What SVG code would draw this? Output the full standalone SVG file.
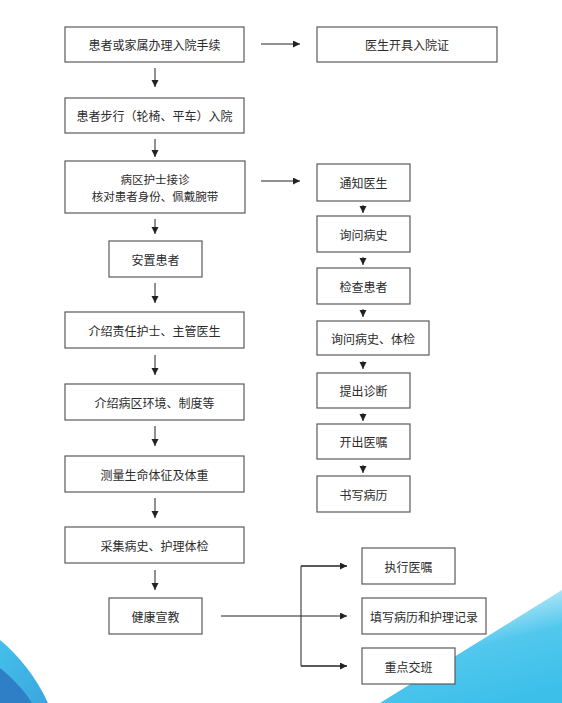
<svg xmlns="http://www.w3.org/2000/svg" width="562" height="703" viewBox="0 0 562 703">
<style>
.box{fill:#fff;stroke:#5a5a5a;stroke-width:1.2}
.t{font-family:"Noto Sans CJK SC","Liberation Sans",sans-serif;font-size:12px;fill:#2b2b2b;text-anchor:middle;dominant-baseline:central}
.t2{font-size:11.5px}
.ln{stroke:#222;stroke-width:1;fill:none}
</style>
<defs>
<marker id="ah" markerUnits="userSpaceOnUse" markerWidth="8" markerHeight="8" refX="7" refY="3.5" orient="auto">
<path d="M0,0 L7,3.5 L0,7 z" fill="#222"/>
</marker>
<linearGradient id="gr" x1="0.2" y1="0" x2="0.6" y2="1">
<stop offset="0" stop-color="#3fc1ec" stop-opacity="0"/>
<stop offset="0.55" stop-color="#3fc1ec" stop-opacity="0.9"/>
<stop offset="1" stop-color="#3cc0ea"/>
</linearGradient>
<linearGradient id="gl" x1="0" y1="0" x2="1" y2="1">
<stop offset="0" stop-color="#45c0ea"/>
<stop offset="1" stop-color="#3aa6de"/>
</linearGradient>
</defs>
<rect width="562" height="703" fill="#fff"/>
<g id="decor">
<path d="M380,703 L562,590 L562,703 Z" fill="url(#gr)"/>
<path d="M0,640 C18,655 35,675 48,703 L0,703 Z" fill="url(#gl)"/>
<path d="M0,668 C12,678 24,690 32,703 L0,703 Z" fill="#2f7fc6"/>
</g>
<g id="connectors">
<line class="ln" x1="261" y1="44" x2="300" y2="44" marker-end="url(#ah)"/>
<line class="ln" x1="155" y1="68" x2="155" y2="87" marker-end="url(#ah)"/>
<line class="ln" x1="155" y1="139" x2="155" y2="157" marker-end="url(#ah)"/>
<line class="ln" x1="261" y1="181" x2="300" y2="181" marker-end="url(#ah)"/>
<line class="ln" x1="155" y1="219" x2="155" y2="234" marker-end="url(#ah)"/>
<line class="ln" x1="155" y1="283" x2="155" y2="303" marker-end="url(#ah)"/>
<line class="ln" x1="155" y1="355" x2="155" y2="375" marker-end="url(#ah)"/>
<line class="ln" x1="155" y1="426" x2="155" y2="446" marker-end="url(#ah)"/>
<line class="ln" x1="155" y1="498" x2="155" y2="518" marker-end="url(#ah)"/>
<line class="ln" x1="155" y1="570" x2="155" y2="590" marker-end="url(#ah)"/>
<line class="ln" x1="363" y1="205" x2="363" y2="213" marker-end="url(#ah)"/>
<line class="ln" x1="363" y1="257" x2="363" y2="265" marker-end="url(#ah)"/>
<line class="ln" x1="363" y1="309" x2="363" y2="317" marker-end="url(#ah)"/>
<line class="ln" x1="363" y1="361" x2="363" y2="369" marker-end="url(#ah)"/>
<line class="ln" x1="363" y1="413" x2="363" y2="421" marker-end="url(#ah)"/>
<line class="ln" x1="363" y1="465" x2="363" y2="473" marker-end="url(#ah)"/>
<line class="ln" x1="221" y1="616" x2="347" y2="616" marker-end="url(#ah)"/>
<polyline class="ln" points="347,566 301,566 301,666 347,666"/>
<line class="ln" x1="301" y1="566" x2="347" y2="566" marker-end="url(#ah)"/>
<line class="ln" x1="301" y1="666" x2="347" y2="666" marker-end="url(#ah)"/>
</g>
<g id="n1"><rect class="box" x="65" y="27" width="179" height="35"/><text class="t" x="154.5" y="44.5">患者或家属办理入院手续</text></g>
<g id="n2"><rect class="box" x="317" y="27" width="180" height="35"/><text class="t" x="407" y="44.5">医生开具入院证</text></g>
<g id="n3"><rect class="box" x="65" y="98" width="179" height="35"/><text class="t" x="154.5" y="115.5">患者步行（轮椅、平车）入院</text></g>
<g id="n4"><rect class="box" x="65" y="161" width="180" height="52"/><text class="t t2" x="155" y="178.5">病区护士接诊</text><text class="t t2" x="155" y="195.5">核对患者身份、佩戴腕带</text></g>
<g id="n5"><rect class="box" x="109" y="241" width="93" height="36"/><text class="t" x="155.5" y="259">安置患者</text></g>
<g id="n6"><rect class="box" x="65" y="312" width="179" height="36"/><text class="t" x="154.5" y="330">介绍责任护士、主管医生</text></g>
<g id="n7"><rect class="box" x="65" y="384" width="179" height="36"/><text class="t" x="154.5" y="402">介绍病区环境、制度等</text></g>
<g id="n8"><rect class="box" x="65" y="456" width="179" height="36"/><text class="t" x="154.5" y="474">测量生命体征及体重</text></g>
<g id="n9"><rect class="box" x="65" y="527" width="179" height="36"/><text class="t" x="154.5" y="545">采集病史、护理体检</text></g>
<g id="n10"><rect class="box" x="109" y="598" width="93" height="36"/><text class="t" x="155.5" y="616">健康宣教</text></g>
<g id="r1"><rect class="box" x="317" y="164" width="93" height="37"/><text class="t" x="363.5" y="182.5">通知医生</text></g>
<g id="r2"><rect class="box" x="317" y="216" width="93" height="36"/><text class="t" x="363.5" y="234">询问病史</text></g>
<g id="r3"><rect class="box" x="317" y="268" width="93" height="36"/><text class="t" x="363.5" y="286">检查患者</text></g>
<g id="r4"><rect class="box" x="317" y="321" width="112" height="34"/><text class="t" x="373" y="338">询问病史、体检</text></g>
<g id="r5"><rect class="box" x="317" y="373" width="93" height="35"/><text class="t" x="363.5" y="390.5">提出诊断</text></g>
<g id="r6"><rect class="box" x="317" y="424" width="93" height="35"/><text class="t" x="363.5" y="441.5">开出医嘱</text></g>
<g id="r7"><rect class="box" x="317" y="476" width="93" height="36"/><text class="t" x="363.5" y="494">书写病历</text></g>
<g id="b1"><rect class="box" x="362" y="548" width="93" height="36"/><text class="t" x="408.5" y="566">执行医嘱</text></g>
<g id="b2"><rect class="box" x="362" y="598" width="124" height="36"/><text class="t" x="424" y="616">填写病历和护理记录</text></g>
<g id="b3"><rect class="box" x="362" y="648" width="93" height="36"/><text class="t" x="408.5" y="666">重点交班</text></g>
</svg>
